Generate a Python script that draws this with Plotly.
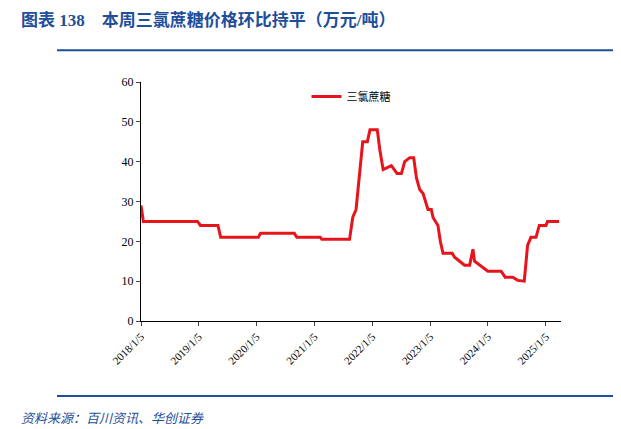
import plotly.graph_objects as go

dates = ['2018-01-05', '2018-01-20', '2018-12-28', '2019-01-15', '2019-05-06', '2019-05-23',
         '2020-01-16', '2020-01-30', '2020-08-30', '2020-09-15', '2021-02-10', '2021-02-20',
         '2021-08-14', '2021-09-03', '2021-09-24', '2021-10-05', '2021-10-13', '2021-11-05',
         '2021-12-04', '2021-12-21', '2022-02-05', '2022-02-21', '2022-03-14', '2022-05-05',
         '2022-06-10', '2022-07-07', '2022-07-28', '2022-08-29', '2022-09-23', '2022-10-10',
         '2022-10-31', '2022-11-21', '2022-12-22', '2023-01-12', '2023-01-23', '2023-02-23',
         '2023-03-10', '2023-03-27', '2023-05-24', '2023-06-08', '2023-07-10', '2023-08-10',
         '2023-09-11', '2023-10-02', '2023-10-12', '2023-11-13', '2023-12-14', '2024-01-04',
         '2024-03-28', '2024-04-22', '2024-06-09', '2024-07-11', '2024-08-21', '2024-09-01',
         '2024-09-11', '2024-10-02', '2024-11-03', '2024-11-24', '2025-01-05', '2025-01-15',
         '2025-03-29']
prices = [29, 25, 25, 24, 24, 21, 21, 22, 22, 21, 21, 20.5, 20.5, 26, 28, 32, 35, 45,
          45, 48, 48, 43, 38, 39, 37, 37, 40, 41, 41, 36, 33, 32, 28, 28, 26, 24, 20, 17,
          17, 16, 15, 14, 14, 18, 15, 14, 13, 12.5, 12.5, 11, 11, 10.2, 10, 15, 19, 21,
          21, 24, 24, 25, 25]
tick_vals = ['%d-01-05' % y for y in range(2018, 2026)]
tick_text = ['%d/1/5' % y for y in range(2018, 2026)]

blue = '#1f4e9a'
fig = go.Figure()
fig.add_trace(go.Scatter(x=dates, y=prices, mode='lines', name='三氯蔗糖',
                         line=dict(color='#e8141c', width=3)))

fig.update_layout(
    width=621, height=429,
    paper_bgcolor='white', plot_bgcolor='white',
    margin=dict(l=133, r=68, t=74, b=116),
    font=dict(family='Noto Sans CJK SC', size=12, color='black'),
    showlegend=True,
    legend=dict(x=0.5, y=1.0, xanchor='center', yanchor='top', font=dict(size=11),
                bgcolor='rgba(0,0,0,0)'),
    xaxis=dict(type='date', range=['2018-01-05', '2025-04-10'], tickvals=tick_vals,
               ticktext=tick_text, tickangle=-45, showgrid=False, showline=True,
               linecolor='black', ticks='outside', ticklen=4, automargin=False,
               tickfont=dict(family='Times New Roman, Liberation Serif', size=11)),
    yaxis=dict(range=[0, 60], dtick=10, showgrid=False, showline=True, linecolor='black',
               ticks='outside', ticklen=4, automargin=False,
               tickfont=dict(family='Times New Roman, Liberation Serif', size=12)),
    shapes=[
        dict(type='line', xref='paper', yref='paper', x0=-0.2, x1=1.2, y0=1.133, y1=1.133,
             line=dict(color=blue, width=2)),
        dict(type='line', xref='paper', yref='paper', x0=-0.2, x1=1.2, y0=-0.314, y1=-0.314,
             line=dict(color=blue, width=2)),
    ],
    annotations=[
        dict(text='<b>图表 138　本周三氯蔗糖价格环比持平（万元/吨）</b>', xref='paper', yref='paper',
             x=-0.29, y=1.26, xanchor='left', yanchor='middle', showarrow=False,
             font=dict(size=17, color=blue, family='Liberation Serif, Noto Sans CJK SC')),
        dict(text='<i>资料来源：百川资讯、华创证券</i>', xref='paper', yref='paper',
             x=-0.29, y=-0.405, xanchor='left', yanchor='middle', showarrow=False,
             font=dict(size=13, color=blue, family='Noto Sans CJK SC')),
    ],
)
fig.write_html('out.html')
